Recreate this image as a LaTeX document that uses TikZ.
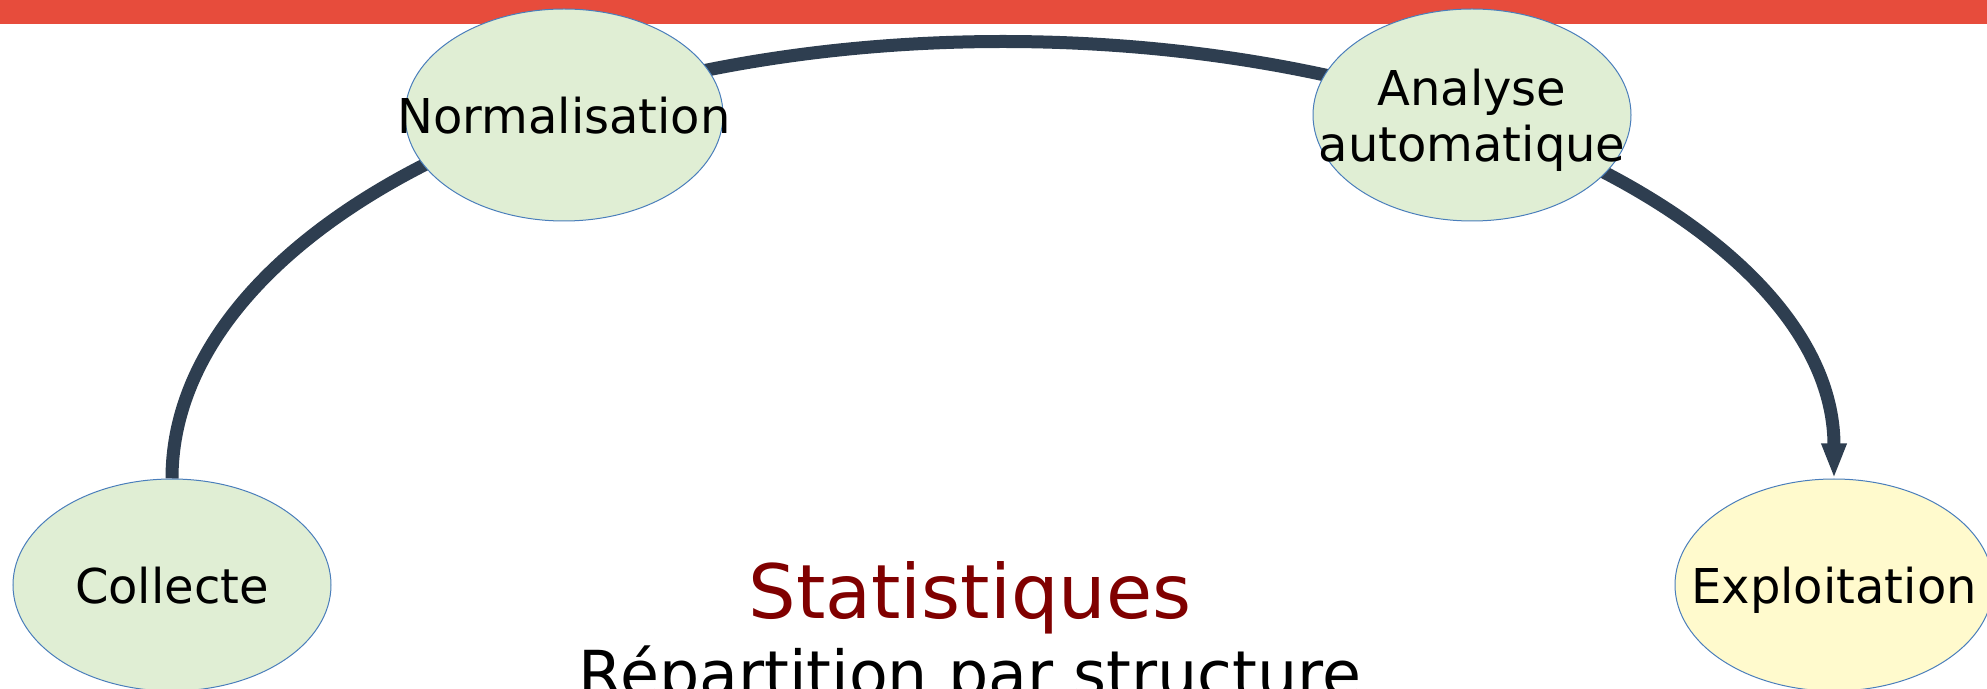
\documentclass[tikz,border=0pt]{standalone}
\usepackage{fontspec}
\setmainfont{DejaVu Sans}
\usepackage{tikz}
\usetikzlibrary{positioning,arrows.meta,backgrounds,shapes.geometric}
\usepackage{xcolor}
\definecolor{barred}{HTML}{E74C3C}
\definecolor{arcnavy}{HTML}{2E3E50}
\definecolor{edgeblue}{HTML}{4A7EBB}
\definecolor{stepgreen}{HTML}{E0EED4}
\definecolor{stepyellow}{HTML}{FFFACD}
\definecolor{titlered}{HTML}{800000}
\newcommand{\ctr}[1]{\makebox[0pt][c]{#1}}

\begin{document}
\begin{tikzpicture}[
  x=0.5pt, y=-0.5pt,
  phase/.style={ellipse, draw=edgeblue, line width=0.5pt, fill=stepgreen, inner sep=0pt,
    minimum width=159pt, minimum height=106pt, align=center, text depth=0pt,
    font=\fontsize{24}{28}\selectfont},
  final/.style={phase, fill=stepyellow},
  cycle/.style={draw=arcnavy, line width=6.5pt, -{Triangle[width=11.5pt,length=17.5pt]}},
]
\useasboundingbox (0,0) rectangle (1987,689);
\node[phase] (coll) at (172,585) {\ctr{Collecte}};
\node[phase] (norm) at (564,115) {\ctr{Normalisation}};
\node[phase] (anal) at (1472,115) {\ctr{Analyse}\\\ctr{automatique}};
\node[final] (expl) at (1834,585) {\ctr{Exploitation}};
\node[anchor=base, text=titlered, font=\fontsize{37.5}{44}\selectfont] (stat) at (970,618) {Statistiques};
\node[anchor=base, font=\fontsize{31.7}{38}\selectfont] (rep) at (970,696) {Répartition par structure};
\begin{scope}[on background layer]
  \fill[barred] (0,0) rectangle (1987,24);
  \draw[cycle] (coll.north) arc[start angle=180, end angle=0, x radius=415.5pt, y radius=218.5pt];
\end{scope}
\end{tikzpicture}
\end{document}
